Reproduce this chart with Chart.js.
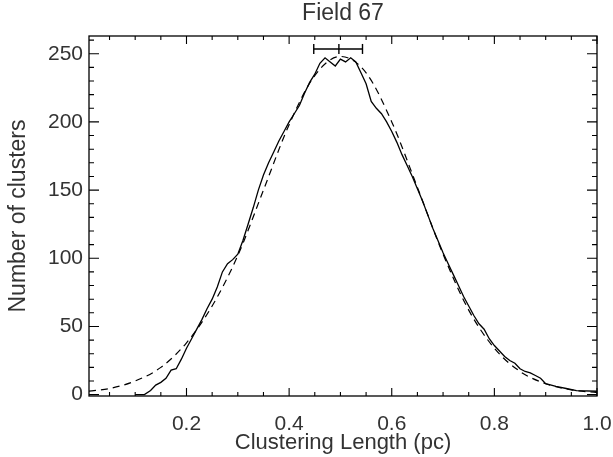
<!DOCTYPE html>
<html>
<head>
<meta charset="utf-8">
<script src="https://cdn.jsdelivr.net/npm/chart.js@4/dist/chart.umd.min.js"></script>
<style>
html,body{margin:0;padding:0;background:#fff;}
#wrap{width:613px;height:457px;}
</style>
</head>
<body>
<div id="wrap"><canvas id="c" width="613" height="457"></canvas></div>
<script>
const titleText = "Field 67";
const xTitle = "Clustering Length (pc)";
const yTitle = "Number of clusters";

// measured histogram (solid)
const solidX = [0.10,0.118,0.13,0.14,0.15,0.16,0.17,0.18,0.19,0.20,0.21,0.22,0.23,0.24,0.25,0.26,0.27,0.28,0.29,0.30,0.31,0.32,0.33,0.34,0.35,0.36,0.37,0.38,0.39,0.40,0.41,0.42,0.43,0.44,0.45,0.46,0.47,0.48,0.49,0.50,0.51,0.52,0.53,0.54,0.55,0.56,0.57,0.58,0.59,0.60,0.61,0.62,0.63,0.64,0.65,0.66,0.67,0.68,0.69,0.70,0.71,0.72,0.73,0.74,0.75,0.76,0.77,0.78,0.79,0.80,0.81,0.82,0.83,0.84,0.85,0.86,0.87,0.88,0.89,0.90,0.92,0.94,0.96,1.00];
const solidY = [0,0,3,7,9,12,18,19,26,34,41,48,55,63,70,79,90,96,99,103,113,125,137,150,161,170,178,186,193,200,206,212,221,229,235,243,247,244,241,246,244,247,244,236,228,215,210,206,200,193,185,176,168,160,151,142,132,122,113,104,96,88,80,72,65,58,52,48,41,36,32,28,25,23,19,17,16,14,12,8,6,4.5,3,2.5];

// fitted curve (dashed)
const fitX = [0.01,0.05,0.10,0.15,0.20,0.25,0.30,0.35,0.40,0.45,0.50,0.55,0.60,0.65,0.70,0.75,0.80,0.85,0.90,0.95,1.00];
const fitY = [2.5,4.5,10,20,38,65,102,150,198,234,248,236,200,152,103,62,34,17,8,3.5,1.5];

// error bar on top
const errX = [0.448,0.497,0.543];
const errY = [253.5,253.5,253.5];

const xMajorTicks = [0.2,0.4,0.6,0.8,1.0];
const xMinorTicks = [0.05,0.10,0.15,0.25,0.30,0.35,0.45,0.50,0.55,0.65,0.70,0.75,0.85,0.90,0.95];
const yMajorTicks = [0,50,100,150,200,250];
const yMinorTicks = [10,20,30,40,60,70,80,90,110,120,130,140,160,170,180,190,210,220,230,240,260];

const X_MIN = 0.01, X_MAX = 1.0, Y_MIN = -1, Y_MAX = 263;

const toPts = (xs, ys) => xs.map((x, i) => ({x: x, y: ys[i]}));

const FONT = "'Liberation Sans', Arial, sans-serif";

const frameTicks = {
  id: 'frameTicks',
  afterDatasetsDraw(chart) {
    const ctx = chart.ctx, a = chart.chartArea;
    const xs = chart.scales.x, ys = chart.scales.y;
    ctx.save();
    ctx.strokeStyle = '#000';
    ctx.lineWidth = 1.3;
    ctx.strokeRect(a.left, a.top, a.right - a.left, a.bottom - a.top);
    ctx.lineWidth = 1.1;
    ctx.beginPath();
    const xt = (vals, len) => vals.forEach(v => {
      const p = xs.getPixelForValue(v);
      ctx.moveTo(p, a.bottom); ctx.lineTo(p, a.bottom - len);
      ctx.moveTo(p, a.top); ctx.lineTo(p, a.top + len);
    });
    const yt = (vals, len) => vals.forEach(v => {
      const p = ys.getPixelForValue(v);
      ctx.moveTo(a.left, p); ctx.lineTo(a.left + len, p);
      ctx.moveTo(a.right, p); ctx.lineTo(a.right - len, p);
    });
    xt(xMajorTicks, 8); xt(xMinorTicks, 4);
    yt(yMajorTicks, 10); yt(yMinorTicks, 5);
    ctx.stroke();
    // title centred over the plot box
    ctx.fillStyle = '#333';
    ctx.font = '23px ' + FONT;
    ctx.textAlign = 'center';
    ctx.textBaseline = 'middle';
    ctx.fillText(titleText, (a.left + a.right) / 2, 14);
    ctx.restore();
  }
};

new Chart(document.getElementById('c'), {
  type: 'line',
  data: {
    datasets: [
      { data: toPts(solidX, solidY), borderColor: '#000', borderWidth: 1.3, pointRadius: 0, tension: 0, fill: false },
      { data: toPts(fitX, fitY), borderColor: '#000', borderWidth: 1.2, borderDash: [7, 5], pointRadius: 0, cubicInterpolationMode: 'monotone', fill: false },
      { data: toPts(errX, errY), borderColor: '#000', borderWidth: 1.4, pointStyle: 'line', rotation: 90, pointRadius: 5, pointBorderWidth: 1.4, pointBorderColor: '#000', tension: 0, fill: false }
    ]
  },
  options: {
    responsive: false,
    animation: false,
    layout: { padding: { left: 0, right: 16, top: 36, bottom: 0 } },
    plugins: {
      legend: { display: false },
      tooltip: { enabled: false },
      title: { display: false }
    },
    scales: {
      x: {
        type: 'linear', min: X_MIN, max: X_MAX,
        afterBuildTicks: s => { s.ticks = xMajorTicks.map(v => ({ value: v })); },
        afterFit: s => { s.height = 61; s.paddingLeft = 0; s.paddingRight = 0; },
        grid: { display: false, drawTicks: false },
        border: { display: false },
        ticks: { color: '#333', padding: 16, maxRotation: 0, font: { family: FONT, size: 21 }, callback: v => Number(v).toFixed(1) },
        title: { display: true, text: xTitle, color: '#333', padding: { top: 0, bottom: 1 }, font: { family: FONT, size: 22 } }
      },
      y: {
        type: 'linear', min: Y_MIN, max: Y_MAX,
        afterBuildTicks: s => { s.ticks = yMajorTicks.map(v => ({ value: v })); },
        afterFit: s => { s.width = 89; s.paddingTop = 0; s.paddingBottom = 0; },
        grid: { display: false, drawTicks: false },
        border: { display: false },
        ticks: { color: '#333', padding: 6, font: { family: FONT, size: 21 } },
        title: { display: true, text: yTitle, color: '#333', padding: { top: 5, bottom: 3 }, font: { family: FONT, size: 23 } }
      }
    }
  },
  plugins: [frameTicks]
});
</script>
</body>
</html>
